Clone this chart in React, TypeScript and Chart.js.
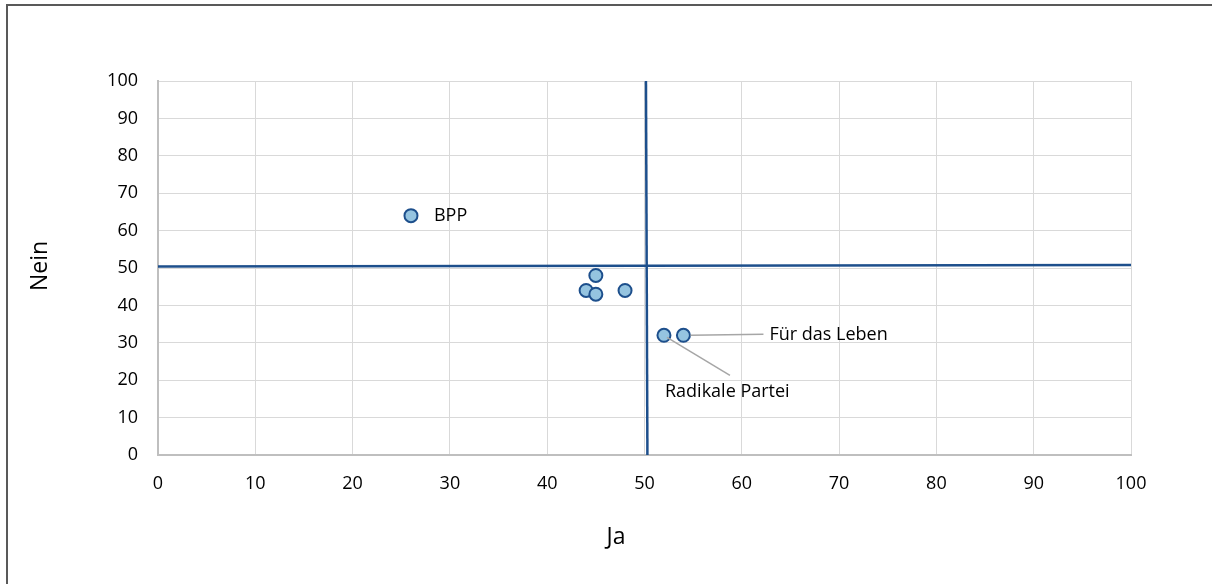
import React, { useEffect, useRef } from "react";
import { Chart, registerables } from "chart.js";

Chart.register(...registerables);

// Data
const parties = ["BPP", "", "", "", "", "Radikale Partei", "Für das Leben"];
const jaValues = [26, 45, 44, 45, 48, 52, 54];
const neinValues = [64, 48, 44, 43, 44, 32, 32];

// reference lines
const hLineX = [0, 100];
const hLineY = [50.4, 50.8];
const vLineX = [50.15, 50.3];
const vLineY = [100, 0];

const xTicks = [0, 10, 20, 30, 40, 50, 60, 70, 80, 90, 100];
const yTicks = [0, 10, 20, 30, 40, 50, 60, 70, 80, 90, 100];

const xTitle = "Ja";
const yTitle = "Nein";

// label placement (pixel offsets from point; style only)
const labelOffsets: Record<string, { dx: number; dy: number; leader?: { dx: number; dy: number; sx: number; sy: number } }> = {
  BPP: { dx: 23, dy: 0 },
  "Für das Leben": { dx: 86, dy: 0, leader: { sx: 7, sy: 0, dx: 80, dy: -1 } },
  "Radikale Partei": { dx: 1, dy: 57, leader: { sx: 3, sy: 2, dx: 66, dy: 40 } },
};

const FONT = "'Open Sans', 'Noto Sans', sans-serif";
const LINE_BLUE = "#1d4f8c";

export default function App() {
  const ref = useRef<HTMLCanvasElement | null>(null);

  useEffect(() => {
    document.body.style.margin = "0";
    document.body.style.overflow = "hidden";
    const canvas = ref.current;
    if (!canvas) return;

    const framePlugin = {
      id: "frame",
      beforeDraw(chart: any) {
        const ctx = chart.ctx;
        ctx.save();
        ctx.fillStyle = "#ffffff";
        ctx.fillRect(0, 0, chart.width, chart.height);
        ctx.strokeStyle = "#595959";
        ctx.lineWidth = 2;
        ctx.strokeRect(7, 5, 1218, 700);
        ctx.restore();
      },
      afterDraw(chart: any) {
        const ctx = chart.ctx;
        ctx.save();
        ctx.fillStyle = "#000000";
        ctx.font = `23px ${FONT}`;
        ctx.textAlign = "center";
        ctx.textBaseline = "middle";
        ctx.fillText(xTitle, 616, 537);
        ctx.translate(40, 266);
        ctx.rotate(-Math.PI / 2);
        ctx.fillText(yTitle, 0, 0);
        ctx.restore();
      },
    };

    const labelPlugin = {
      id: "pointLabels",
      afterDatasetsDraw(chart: any) {
        const meta = chart.getDatasetMeta(2);
        const ctx = chart.ctx;
        ctx.save();
        ctx.font = `18px ${FONT}`;
        ctx.fillStyle = "#000000";
        ctx.textAlign = "left";
        ctx.textBaseline = "middle";
        meta.data.forEach((el: any, i: number) => {
          const name = parties[i];
          if (!name) return;
          const off = labelOffsets[name] || { dx: 10, dy: 0 };
          if (off.leader) {
            ctx.strokeStyle = "#a6a6a6";
            ctx.lineWidth = 1.5;
            ctx.beginPath();
            ctx.moveTo(el.x + off.leader.sx, el.y + off.leader.sy);
            ctx.lineTo(el.x + off.leader.dx, el.y + off.leader.dy);
            ctx.stroke();
          }
          ctx.fillText(name, el.x + off.dx, el.y + off.dy);
        });
        ctx.restore();
      },
    };

    const chart = new Chart(canvas, {
      type: "scatter",
      data: {
        datasets: [
          {
            label: "h",
            data: hLineX.map((x, i) => ({ x, y: hLineY[i] })),
            showLine: true,
            borderColor: LINE_BLUE,
            borderWidth: 2.5,
            pointRadius: 0,
            order: 3,
          },
          {
            label: "v",
            data: vLineX.map((x, i) => ({ x, y: vLineY[i] })),
            showLine: true,
            borderColor: LINE_BLUE,
            borderWidth: 2.5,
            pointRadius: 0,
            order: 2,
          },
          {
            label: "Parteien",
            data: jaValues.map((x, i) => ({ x, y: neinValues[i] })),
            backgroundColor: "#95c4e0",
            borderColor: "#1d4f8c",
            borderWidth: 2,
            pointRadius: 6.5,
            order: 1,
          },
        ],
      },
      options: {
        animation: false,
        responsive: false,
        devicePixelRatio: 1,
        layout: { padding: { left: 0, top: 81, right: 81, bottom: 0 } },
        plugins: {
          legend: { display: false },
          tooltip: { enabled: false },
          title: { display: false },
        },
        scales: {
          x: {
            type: "linear",
            min: 0,
            max: 100,
            afterBuildTicks: (s: any) => {
              s.ticks = xTicks.map((v) => ({ value: v }));
            },
            afterFit: (s: any) => {
              s.height = 129;
            },
            ticks: {
              color: "#000000",
              font: { family: FONT, size: 18 },
              padding: 18,
            },
            grid: { color: "#d9d9d9", lineWidth: 1, drawTicks: false },
            border: { color: "#bfbfbf", width: 2 },
          },
          y: {
            type: "linear",
            min: 0,
            max: 100,
            afterBuildTicks: (s: any) => {
              s.ticks = yTicks.map((v) => ({ value: v }));
            },
            afterFit: (s: any) => {
              s.width = 158;
            },
            ticks: {
              color: "#000000",
              font: { family: FONT, size: 18 },
              padding: 20,
            },
            grid: { color: "#d9d9d9", lineWidth: 1, drawTicks: false },
            border: { color: "#bfbfbf", width: 2 },
          },
        },
      },
      plugins: [framePlugin, labelPlugin],
    } as any);

    return () => chart.destroy();
  }, []);

  return (
    <canvas
      ref={ref}
      width={1212}
      height={584}
      style={{ display: "block", position: "absolute", left: 0, top: 0, width: 1212, height: 584 }}
    />
  );
}
